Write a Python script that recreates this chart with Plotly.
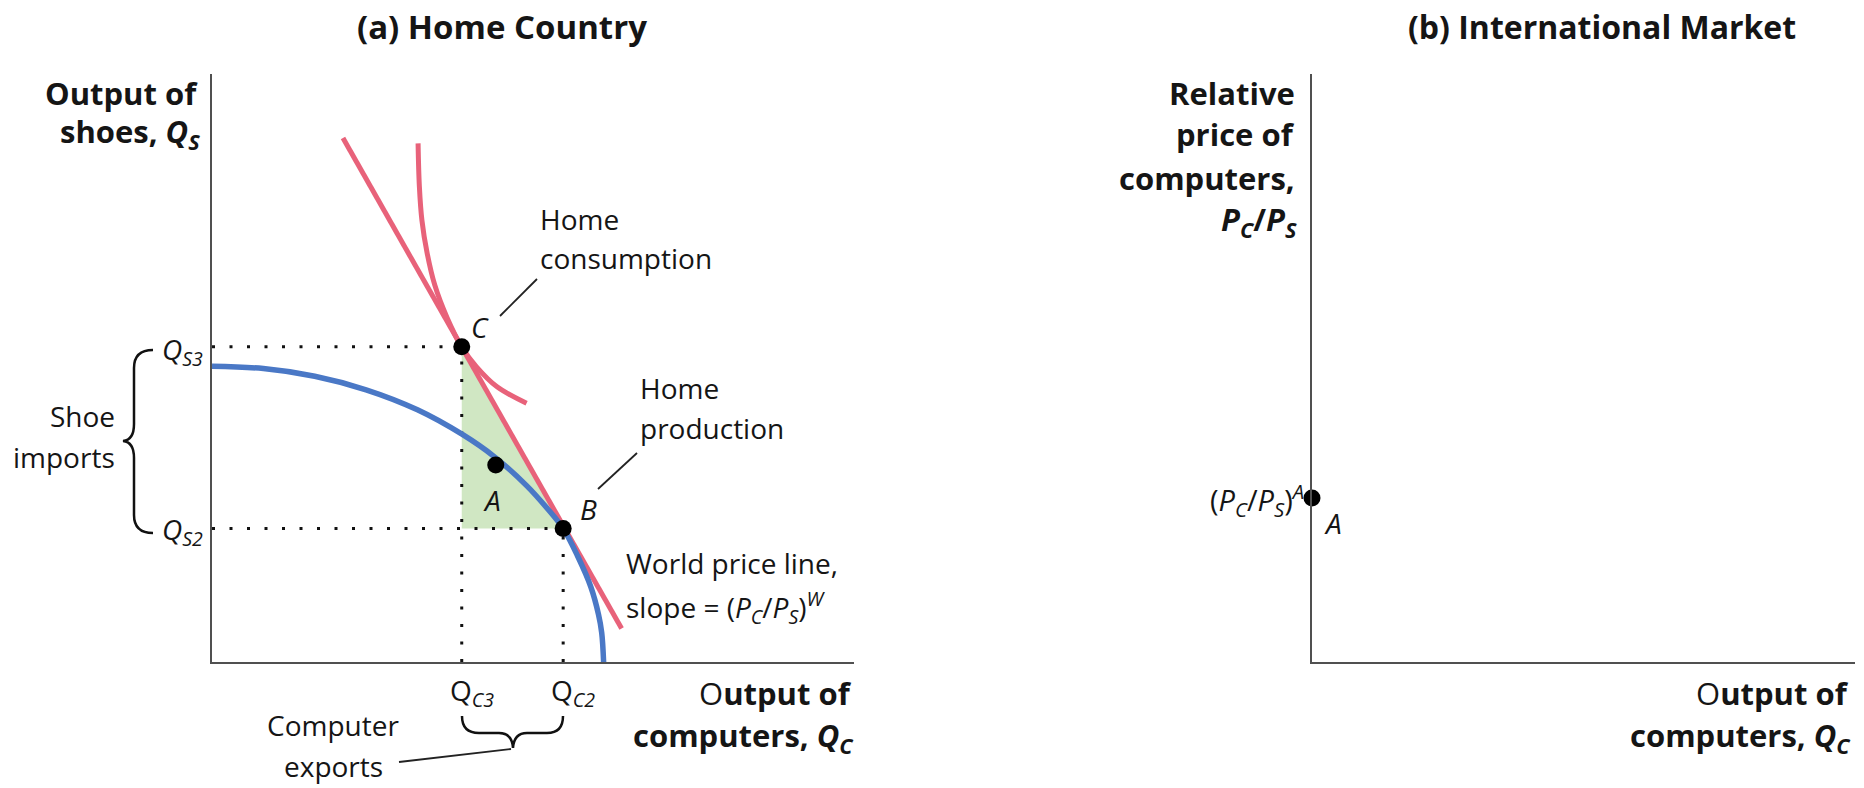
import plotly.graph_objects as go

# ---------------- data ----------------
# Panel (a): production possibilities frontier (blue)
ppf_x = [0, 0.8, 1.6, 2.4, 3.2, 3.9, 4.4, 4.9, 5.2, 5.47, 5.7, 5.9, 6.02, 6.07, 6.10]
ppf_y = [5.03, 4.99, 4.86, 4.63, 4.29, 3.87, 3.49, 3.00, 2.64, 2.27, 1.79, 1.28, 0.81, 0.50, 0.0]

# World price line (red, straight)
price_x = [2.04, 6.38]
price_y = [8.91, 0.57]

# Indifference curve (red, convex)
ic_x = [3.21, 3.23, 3.27, 3.35, 3.47, 3.66, 3.89, 4.12, 4.44, 4.90]
ic_y = [8.82, 8.09, 7.51, 6.96, 6.41, 5.86, 5.36, 5.02, 4.68, 4.40]

# Labelled points
point_names = ["C", "A", "B"]
point_x = [3.89, 4.42, 5.47]
point_y = [5.36, 3.35, 2.27]

# Reference quantities
QC3, QC2 = 3.89, 5.47
QS3, QS2 = 5.36, 2.27

# Panel (b): autarky relative price
pa_x = [0]
pa_y = [2.79]

# Text
title_a = "<b>(a) Home Country</b>"
title_b = "<b>(b) International Market</b>"

# ---------------- styling ----------------
W, H = 1864, 788
FONT = "Open Sans, Lato, DejaVu Sans, sans-serif"
RED = "#e8627a"
BLUE = "#4a78c6"
GREEN = "#d0e7c3"
AXIS = "#505050"
TXT = "#151515"


def px(x):
    return x / W


def py(y):
    return 1 - y / H


fig = go.Figure()

# green triangle (shoe imports / computer exports)
fig.add_trace(go.Scatter(
    x=[QC3, QC3, QC2, QC3], y=[QS3, QS2, QS2, QS3],
    fill="toself", fillcolor=GREEN, mode="lines", line=dict(width=0),
    hoverinfo="skip", xaxis="x", yaxis="y"))

# dotted guides
dot_style = dict(color="#111111", width=3, dash="3px,14.5px")
for xs, ys in [([0, QC3], [QS3, QS3]), ([0, QC2], [QS2, QS2]),
               ([QC3, QC3], [0, QS3]), ([QC2, QC2], [0, QS2])]:
    fig.add_trace(go.Scatter(x=xs, y=ys, mode="lines", line=dot_style,
                             hoverinfo="skip", xaxis="x", yaxis="y"))

# red curves
fig.add_trace(go.Scatter(x=price_x, y=price_y, mode="lines",
                         line=dict(color=RED, width=5), hoverinfo="skip"))
fig.add_trace(go.Scatter(x=ic_x, y=ic_y, mode="lines",
                         line=dict(color=RED, width=5, shape="spline", smoothing=1.0),
                         hoverinfo="skip"))
# blue PPF
fig.add_trace(go.Scatter(x=ppf_x, y=ppf_y, mode="lines",
                         line=dict(color=BLUE, width=5.5, shape="spline", smoothing=1.0),
                         hoverinfo="skip"))
# points
fig.add_trace(go.Scatter(x=point_x, y=point_y, mode="markers",
                         marker=dict(color="black", size=17), hoverinfo="skip"))
# panel (b) point
fig.add_trace(go.Scatter(x=pa_x, y=pa_y, mode="markers", cliponaxis=False,
                         marker=dict(color="black", size=17), hoverinfo="skip",
                         xaxis="x2", yaxis="y2"))

ax_common = dict(range=[0, 10], showgrid=False, zeroline=False, showticklabels=False,
                 ticks="", showline=True, linecolor=AXIS, linewidth=2, fixedrange=True)
fig.update_layout(
    width=W, height=H,
    margin=dict(l=0, r=0, t=0, b=0),
    paper_bgcolor="white", plot_bgcolor="white",
    showlegend=False,
    xaxis=dict(domain=[px(212), px(854)], anchor="y", **ax_common),
    yaxis=dict(domain=[py(662), py(74)], anchor="x", **ax_common),
    xaxis2=dict(domain=[px(1312), px(1855)], anchor="y2", **ax_common),
    yaxis2=dict(domain=[py(662), py(74)], anchor="x2", **ax_common),
    font=dict(family=FONT, color=TXT, size=28),
)

ann = []


def note(text, x, y, size=28, anchor="left", color=TXT):
    ann.append(dict(text=text, x=px(x), y=py(y), xref="paper", yref="paper",
                    xanchor=anchor, yanchor="middle", showarrow=False,
                    font=dict(family=FONT, size=size, color=color)))


# titles
note(title_a, 502, 27, size=33, anchor="center")
note(title_b, 1602, 27, size=32, anchor="center")

# panel (a) axis titles
note("<b>Output of</b>", 200, 93, size=31, anchor="right")
note("<b>shoes, <i>Q<sub>S</sub></i></b>", 202, 133, size=31, anchor="right")
note("O<b>utput of</b>", 854, 693, size=31, anchor="right")
note("<b>computers, <i>Q<sub>C</sub></i></b>", 856, 737, size=31, anchor="right")

# Q labels on axes
note("<i>Q<sub>S3</sub></i>", 205, 351, size=28, anchor="right")
note("<i>Q<sub>S2</sub></i>", 205, 531, size=28, anchor="right")
note("Q<sub><i>C3</i></sub>", QC3 * 64.2 + 212 - 14, 692, size=28, anchor="left")
note("Q<sub><i>C2</i></sub>", QC2 * 64.2 + 212 - 14, 692, size=28, anchor="left")

# brace labels
note("Shoe", 117, 416, size=28, anchor="right")
note("imports", 117, 457, size=28, anchor="right")
note("Computer", 333, 725, size=28, anchor="center")
note("exports", 333, 766, size=28, anchor="center")

# point labels
note("<i>C</i>", 480, 327, size=28, anchor="center")
note("<i>B</i>", 588, 509, size=28, anchor="center")
note("<i>A</i>", 492, 500, size=28, anchor="center")

# callouts
note("Home", 538, 219, size=28)
note("consumption", 538, 258, size=28)
note("Home", 638, 388, size=28)
note("production", 638, 428, size=28)
note("World price line,", 624, 563, size=28)
note("slope = (<i>P<sub>C</sub></i>/<i>P<sub>S</sub></i>)<sup><i>W</i></sup>", 624, 607, size=28)

# panel (b) labels
note("<b>Relative</b>", 1297, 93, size=31, anchor="right")
note("<b>price of</b>", 1297, 134, size=31, anchor="right")
note("<b>computers,</b>", 1297, 178, size=31, anchor="right")
note("<b><i>P<sub>C</sub></i>/<i>P<sub>S</sub></i></b>", 1299, 221, size=31, anchor="right")
note("(<i>P<sub>C</sub></i>/<i>P<sub>S</sub></i>)<sup><i>A</i></sup>", 1306, 500, size=29, anchor="right")
note("<i>A</i>", 1333, 523, size=28, anchor="center")
note("O<b>utput of</b>", 1851, 693, size=31, anchor="right")
note("<b>computers, <i>Q<sub>C</sub></i></b>", 1853, 737, size=31, anchor="right")

fig.update_layout(annotations=ann)


def path_px(cmds):
    out = []
    for c in cmds:
        if isinstance(c, str):
            out.append(c)
        else:
            out.append(f"{px(c[0]):.5f},{py(c[1]):.5f}")
    return " ".join(out)


shapes = []
# left brace "{"
shapes.append(dict(type="path", xref="paper", yref="paper",
                   path=path_px(["M", (153, 350), "Q", (134, 350), (134, 368), "L", (134, 424),
                                 "Q", (134, 440), (123, 441), "Q", (134, 442), (134, 458),
                                 "L", (134, 515), "Q", (134, 533), (153, 533)]),
                   line=dict(color="#111111", width=2.5)))
# bottom brace
shapes.append(dict(type="path", xref="paper", yref="paper",
                   path=path_px(["M", (462, 716), "Q", (462, 733), (479, 733), "L", (499, 733),
                                 "Q", (512, 733), (513, 748), "Q", (514, 733), (527, 733),
                                 "L", (547, 733), "Q", (563, 733), (563, 716)]),
                   line=dict(color="#111111", width=2.5)))
# leader lines
for (x0, y0, x1, y1) in [(399, 762, 511, 749), (500, 316, 537, 279), (598, 489, 637, 453)]:
    shapes.append(dict(type="line", xref="paper", yref="paper",
                       x0=px(x0), y0=py(y0), x1=px(x1), y1=py(y1),
                       line=dict(color="#222222", width=1.8)))
fig.update_layout(shapes=shapes)

fig.write_html("out.html",
               config={"displayModeBar": False, "staticPlot": True},
               post_script="document.body.style.margin='0';document.body.style.overflow='hidden';")
